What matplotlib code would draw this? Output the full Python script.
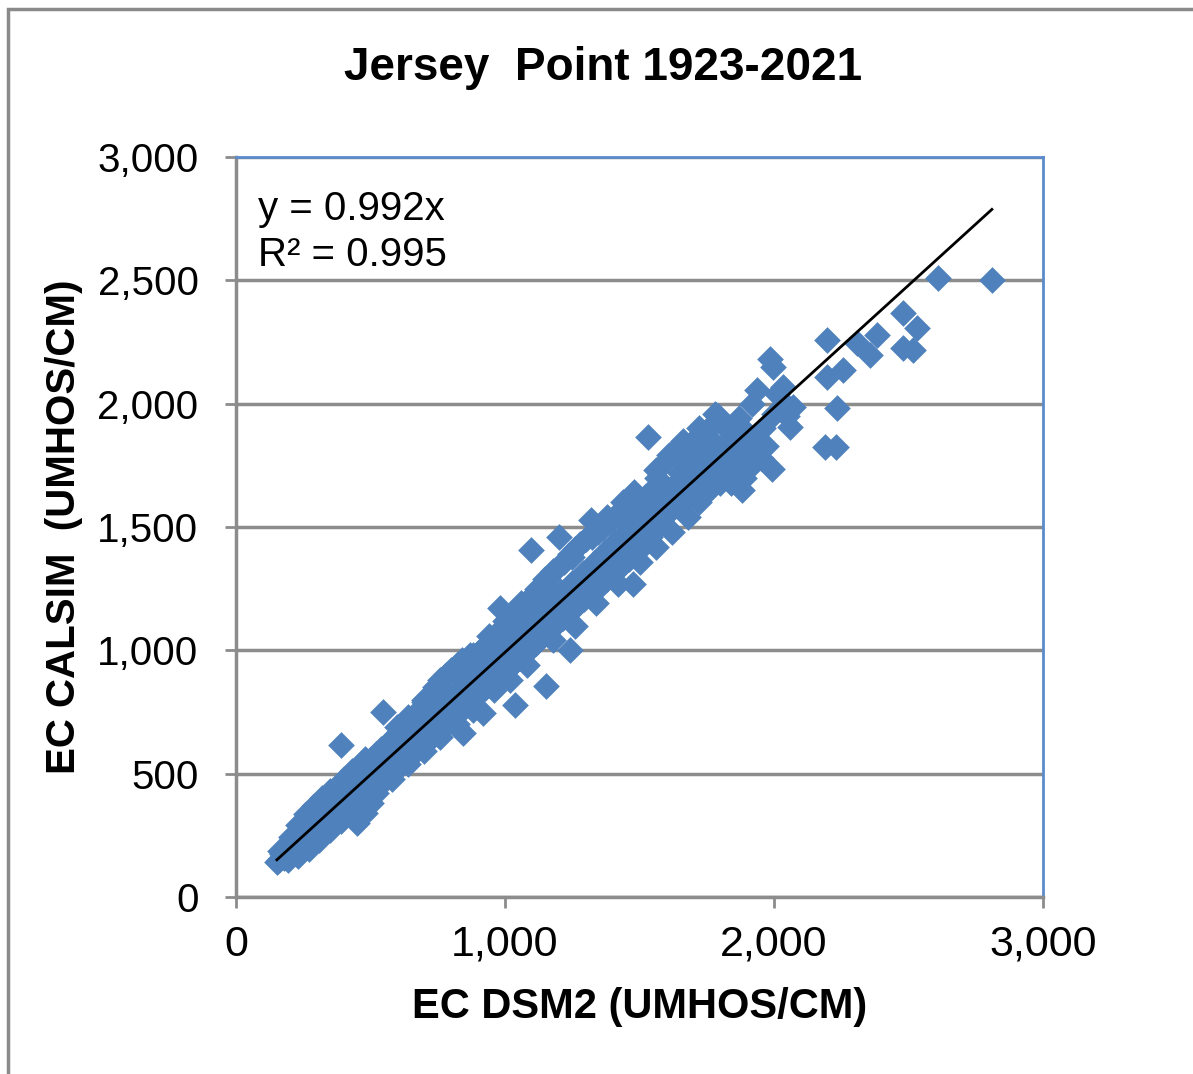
import numpy as np
import matplotlib.pyplot as plt
from matplotlib.patches import Rectangle

# EC DSM2 vs EC CALSIM
dsm2_low = [152, 160, 170, 180, 185, 195, 200, 205, 210, 215, 220, 225, 230, 235, 240, 245,
            250, 255, 260, 265, 270, 275, 280, 285, 290, 295, 300, 305, 310, 315, 320]
calsim_low = [140, 150, 175, 160, 200, 180, 215, 170, 235, 195, 250, 210, 185, 265, 225, 200,
              280, 240, 215, 295, 255, 230, 310, 270, 245, 330, 285, 255, 345, 300, 270]

dsm2_b = [325, 330, 335, 340, 345, 350, 355, 360, 365, 370, 375, 380, 390, 385, 395, 400,
          405, 410, 415, 420, 425, 430, 440, 445, 450, 455, 460, 465, 470, 480, 485, 490,
          500, 505, 510, 520, 525, 530, 545, 540, 545, 550, 560, 565, 570, 480, 500]
calsim_b = [360, 320, 285, 380, 335, 300, 395, 350, 315, 410, 365, 330, 615, 425, 380, 345,
            445, 400, 360, 470, 415, 375, 490, 430, 300, 385, 510, 455, 405, 530, 470, 420,
            560, 490, 440, 580, 510, 455, 750, 600, 530, 470, 620, 545, 490, 340, 380]

dsm2_c = [580, 585, 590, 600, 605, 610, 620, 625, 630, 640, 645, 650, 660, 665, 670, 680,
          685, 690, 700, 705, 710, 720, 725, 730, 740, 745, 750, 760, 765, 770, 780, 785,
          790, 800, 805, 810, 820, 825, 830, 840, 845, 850, 860, 865, 870, 880, 885, 890,
          900, 905, 910, 844, 918]
calsim_c = [640, 560, 510, 660, 580, 530, 690, 600, 550, 710, 620, 570, 730, 640, 590, 760,
            660, 610, 790, 680, 630, 820, 700, 650, 850, 720, 670, 880, 740, 690, 900, 760,
            710, 920, 790, 730, 940, 810, 750, 960, 830, 770, 960, 850, 790, 980, 870, 810,
            990, 890, 830, 665, 746]

dsm2_d = [920, 925, 930, 940, 945, 950, 960, 965, 970, 980, 985, 990, 995, 1000, 1010, 1015,
          1020, 1030, 1035, 1037, 1040, 1050, 1055, 1060, 1070, 1075, 1080, 1090, 1095, 1095,
          1100, 1110, 1115, 1120, 1130, 1135, 1140, 1150, 1152, 1155, 1160, 1170, 1175, 1180,
          1190, 1195, 1200, 1200, 1210, 1215, 1220, 1230, 1240, 1235, 1240, 1250, 1255, 1260,
          1270, 1275, 1280, 1290, 1295, 1300]
calsim_d = [1010, 910, 850, 1030, 930, 870, 1060, 950, 890, 1170, 1080, 970, 910, 1100, 990, 930,
            1120, 1010, 950, 780, 1150, 1030, 970, 1180, 1060, 990, 1200, 1080, 1405, 1010,
            1220, 1100, 1030, 1250, 1120, 1050, 1270, 1140, 855, 1070, 1290, 1160, 1090, 1320,
            1190, 1110, 1460, 1340, 1210, 1130, 1360, 1230, 1000, 1150, 1390, 1250, 1170, 1410,
            1270, 1190, 1430, 1290, 1210, 1450]

dsm2_e = [1310, 1315, 1320, 1325, 1330, 1340, 1345, 1350, 1360, 1365, 1370, 1380, 1385, 1390,
          1400, 1405, 1410, 1420, 1425, 1430, 1440, 1450, 1455, 1460, 1475, 1470, 1480, 1490,
          1500, 1505, 1510, 1520, 1530, 1530, 1540, 1545, 1550, 1560, 1565, 1570, 1580, 1590,
          1595, 1600, 1610, 1620, 1630, 1640, 1650, 1660, 1670, 1680, 1690, 1700, 1710, 1720,
          1730, 1740, 1750, 1760, 1770, 1780, 1790, 1800]
calsim_e = [1310, 1230, 1530, 1460, 1330, 1250, 1480, 1350, 1270, 1500, 1370, 1290, 1520, 1390,
            1310, 1540, 1410, 1330, 1550, 1430, 1350, 1560, 1450, 1370, 1270, 1580, 1470, 1400,
            1600, 1490, 1430, 1620, 1865, 1510, 1460, 1650, 1540, 1490, 1700, 1580, 1520, 1760,
            1620, 1550, 1790, 1660, 1580, 1810, 1690, 1610, 1820, 1720, 1640, 1850, 1750, 1680,
            1870, 1780, 1710, 1900, 1800, 1730, 1950, 1820]

dsm2_f = [1810, 1820, 1830, 1840, 1850, 1860, 1870, 1880, 1890, 1900, 1910, 1920, 1930, 1937,
          1950, 1960, 1970, 1985, 1996, 1993, 2000, 2010, 2033, 2071, 2059, 2040, 2050]
calsim_f = [1750, 1900, 1800, 1680, 1850, 1760, 1940, 1830, 1700, 1880, 1790, 2000, 1850, 2055,
            1780, 1900, 1830, 2180, 2148, 1735, 1960, 2040, 2067, 1986, 1905, 2000, 1950]

dsm2_g = [2197, 2197, 2257, 2234, 2190, 2230, 2308, 2357, 2383, 2480, 2532, 2480, 2517, 2610, 2810]
calsim_g = [2258, 2108, 2136, 1982, 1825, 1825, 2246, 2197, 2278, 2367, 2306, 2225, 2217, 2510, 2500]

# points inside the dense band
dsm2_mid = [165, 190, 210, 230, 250, 270, 290, 310, 330, 350, 370, 390, 410, 430, 450, 470,
            490, 510, 530, 550, 570, 590, 610, 630, 650, 670, 690, 710, 730, 750, 770, 790,
            810, 830, 850, 870, 890, 910, 930, 950, 970, 990, 1010, 1030, 1050, 1070, 1090,
            1110, 1130, 1150, 1170, 1190, 1210, 1230, 1250, 1270, 1290, 1310, 1330, 1350,
            1370, 1390, 1410, 1430, 1450, 1470, 1490, 1510, 1530, 1550, 1570, 1590, 1610,
            1630, 1650, 1670, 1690, 1710, 1730, 1750, 1770, 1790]
calsim_mid = [185, 170, 215, 245, 235, 290, 275, 320, 345, 335, 390, 370, 430, 410, 465, 445,
              505, 480, 545, 520, 585, 560, 625, 600, 665, 640, 700, 680, 745, 720, 785, 760,
              825, 800, 870, 840, 905, 880, 950, 915, 990, 960, 1030, 1000, 1075, 1040, 1110,
              1080, 1150, 1120, 1195, 1160, 1235, 1200, 1275, 1240, 1315, 1280, 1355, 1320,
              1400, 1360, 1440, 1400, 1480, 1440, 1520, 1480, 1560, 1520, 1610, 1570, 1650,
              1610, 1720, 1650, 1760, 1700, 1800, 1750, 1850, 1780]

# upper and lower edges of the band
dsm2_up = [205, 230, 260, 290, 320, 350, 400, 430, 480, 600, 640, 700, 760, 820, 870, 940,
           1000, 1060, 1150, 1250, 1320, 1380, 1440, 1480, 1560, 1620, 1660, 1720, 1780]
calsim_up = [245, 290, 335, 370, 400, 430, 480, 510, 560, 690, 730, 800, 860, 930, 980, 1060,
             1120, 1190, 1290, 1380, 1470, 1540, 1600, 1640, 1730, 1800, 1850, 1900, 1960]
dsm2_lo = [195, 230, 270, 310, 350, 390, 430, 520, 580, 640, 700, 760, 820, 880, 960, 1020,
           1080, 1180, 1260, 1340, 1420, 1500, 1560, 1620, 1680, 1720, 1760, 1800, 1850, 1880, 1920]
calsim_lo = [150, 165, 195, 230, 270, 310, 345, 420, 480, 540, 590, 650, 700, 760, 840, 880,
             940, 1040, 1100, 1190, 1270, 1360, 1420, 1480, 1540, 1600, 1650, 1680, 1720, 1650, 1750]

slope = 0.992
r2 = 0.995

x_ticks = [0, 1000, 2000, 3000]
y_ticks = [0, 500, 1000, 1500, 2000, 2500, 3000]

dsm2 = np.array(dsm2_low + dsm2_b + dsm2_c + dsm2_d + dsm2_e + dsm2_f + dsm2_g
                + dsm2_mid + dsm2_up + dsm2_lo)
calsim = np.array(calsim_low + calsim_b + calsim_c + calsim_d + calsim_e + calsim_f + calsim_g
                  + calsim_mid + calsim_up + calsim_lo)

blue = '#4F81BD'
grey = '#8C8C8C'
bold_family = ['Liberation Sans Narrow', 'Liberation Sans', 'DejaVu Sans']

fig = plt.figure(figsize=(11.93, 10.74), dpi=100)
ax = fig.add_axes([236 / 1193, 1 - 897 / 1074, (1043 - 236) / 1193, (897 - 157) / 1074])

ax.scatter(dsm2, calsim, marker='D', s=185, color=blue, linewidths=0, zorder=3)
xs = np.array([dsm2.min(), dsm2.max()])
ax.plot(xs, slope * xs, color='black', lw=2, zorder=4)

ax.set_xlim(0, 3000)
ax.set_ylim(0, 3000)
ax.set_xticks(x_ticks)
ax.set_yticks(y_ticks)
ax.set_xticklabels([f'{v:,}' for v in x_ticks], family=['Liberation Sans Narrow', 'Liberation Sans'],
                   fontsize=31)
ax.set_yticklabels([f'{v:,}' for v in y_ticks], family='Liberation Sans', fontsize=29)
ax.tick_params(axis='both', direction='out', length=8, width=2, color=grey)
ax.tick_params(axis='x', pad=12)
ax.tick_params(axis='y', pad=19)
ax.yaxis.grid(True, color=grey, lw=2.5, zorder=0)
ax.set_axisbelow(True)

for side in ['left', 'bottom']:
    ax.spines[side].set_color(grey)
    ax.spines[side].set_linewidth(2.5)
for side in ['top', 'right']:
    ax.spines[side].set_color('#5B8BCB')
    ax.spines[side].set_linewidth(2)

ax.set_xlabel('EC DSM2 (UMHOS/CM)', family=bold_family, fontweight='bold', fontsize=30, labelpad=16)
ax.set_ylabel('EC CALSIM  (UMHOS/CM)', family=bold_family, fontweight='bold', fontsize=29, labelpad=10)
fig.text(603 / 1193, 1 - 68 / 1074, 'Jersey  Point 1923-2021', family=bold_family, fontweight='bold',
         fontsize=33, ha='center', va='center')

ax.text(0.027, 0.93, f'y = {slope}x', transform=ax.transAxes, family='Liberation Sans',
        fontsize=29, va='center')
ax.text(0.027, 0.868, f'R² = {r2}', transform=ax.transAxes, family='Liberation Sans',
        fontsize=29, va='center')

# outer chart frame (only left and top are inside the picture)
fig.add_artist(Rectangle((8 / 1193, -0.1), 1.2, 1 - 9 / 1074 + 0.1, transform=fig.transFigure,
                         fill=False, edgecolor='#8A8A8A', lw=2.5))

fig.savefig('out.png', dpi=100, facecolor='white')
